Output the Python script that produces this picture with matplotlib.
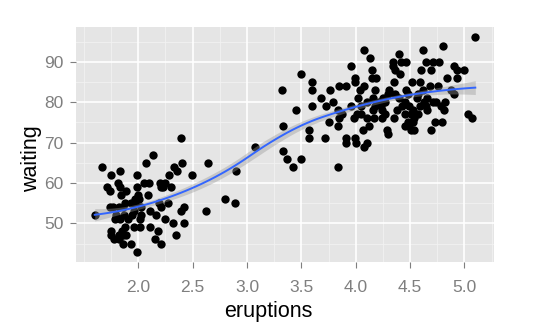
import numpy as np
import matplotlib
matplotlib.use("Agg")
import matplotlib.pyplot as plt

plt.rcParams['font.family'] = ['Liberation Sans', 'DejaVu Sans']

# points (eruption length in min, waiting time in min)
eruptions = [
    1.60, 1.67, 1.71, 1.75, 1.74, 1.74, 1.75, 1.75, 1.78, 1.80, 1.81, 1.83, 1.83,
    1.84, 1.82, 1.79, 1.82, 1.85, 1.86, 1.88, 1.89, 1.88, 1.91, 1.93, 1.94, 1.96,
    1.97, 1.99, 1.99, 2.00, 1.99, 2.02, 2.02, 2.03, 2.01, 2.03, 2.07, 2.09, 2.10,
    2.11, 2.11, 2.14, 2.15, 2.16, 2.18, 2.19, 2.20, 2.21, 2.21, 2.23, 2.25, 2.25,
    2.27, 2.28, 2.30, 2.32, 2.33, 2.35, 2.36, 2.39, 2.39, 2.40, 2.42, 2.42, 2.49,
    1.77, 1.86, 1.93, 1.97, 2.05, 2.21, 1.86, 1.89, 1.96, 1.83, 1.87, 1.82,
    2.62, 2.64, 2.80, 2.89, 2.90, 3.07,
    3.32, 3.33, 3.33, 3.37, 3.42, 3.45, 3.50, 3.50, 3.57, 3.57, 3.60, 3.60, 3.60,
    3.68, 3.72, 3.73, 3.75, 3.76, 3.79, 3.84, 3.84, 3.85, 3.84, 3.85, 3.87, 3.91,
    3.91, 3.91, 3.96, 3.96, 3.98, 3.99, 3.99, 3.99, 4.00, 4.01, 4.02, 4.04, 4.07,
    4.08, 4.08, 4.10, 4.08, 4.10, 4.10, 4.12, 4.13, 4.15, 4.15, 4.16, 4.16, 4.17,
    4.18, 4.19, 4.21, 4.24, 4.25, 4.27, 4.29, 4.30, 4.31, 4.34, 4.34, 4.35, 4.35,
    4.36, 4.36, 4.38, 4.40, 4.41, 4.42, 4.45, 4.46, 4.45, 4.46, 4.48, 4.49, 4.51,
    4.52, 4.53, 4.54, 4.56, 4.57, 4.59, 4.60, 4.62, 4.62, 4.63, 4.65, 4.66, 4.68,
    4.69, 4.69, 4.71, 4.73, 4.74, 4.76, 4.77, 4.79, 4.80, 4.81, 4.82, 4.84, 4.88,
    4.90, 4.90, 4.93, 4.93, 5.00, 5.03, 5.07, 5.10,
    4.23, 4.27, 4.40, 4.49, 4.54, 4.59, 4.43, 4.18, 4.05, 4.30, 4.48, 4.57, 4.65,
    4.51, 4.45, 4.53, 4.78, 4.71, 4.66, 4.05, 4.24,
]
waiting = [
    52, 64, 59, 62, 58, 54, 48, 47, 46, 52, 60, 63, 59,
    57, 54, 51, 46, 48, 45, 55, 58, 49, 51, 45, 52, 53,
    56, 62, 59, 57, 43, 49, 51, 52, 56, 54, 65, 57, 60,
    53, 49, 67, 46, 52, 48, 55, 60, 45, 54, 59, 60, 51,
    55, 62, 59, 50, 64, 47, 63, 71, 53, 65, 54, 50, 62,
    54, 54, 55, 55, 60, 59, 47, 47, 49, 51, 52, 47,
    53, 65, 56, 55, 63, 69,
    83, 74, 68, 66, 64, 78, 87, 66, 73, 71, 85, 83, 79,
    81, 71, 79, 75, 83, 80, 64, 74, 84, 78, 76, 77, 84,
    71, 70, 89, 79, 76, 86, 85, 71, 70, 77, 81, 83, 73,
    69, 93, 70, 84, 80, 76, 74, 91, 88, 86, 81, 78, 76,
    83, 86, 80, 78, 81, 77, 73, 72, 83, 90, 89, 85, 76,
    88, 82, 78, 92, 87, 90, 80, 90, 77, 83, 75, 74, 73,
    85, 78, 73, 81, 77, 85, 88, 93, 83, 80, 90, 78, 84,
    88, 73, 90, 75, 80, 84, 90, 75, 94, 78, 80, 86, 83,
    82, 89, 88, 86, 88, 77, 76, 96,
    79, 80, 81, 79, 76, 79, 79, 79, 79, 82, 82, 82, 79,
    77, 74, 75, 79, 80, 81, 77, 76,
]

x_ticks = [2.0, 2.5, 3.0, 3.5, 4.0, 4.5, 5.0]
y_ticks = [50, 60, 70, 80, 90]

x = np.array(eruptions)
y = np.array(waiting)


# local quadratic regression (loess, span 0.75) plus a standard error band
def loess_matrix(x, x_eval, span=0.75):
    n = len(x)
    q = int(np.floor(n * span))
    L = np.zeros((len(x_eval), n))
    for i, x0 in enumerate(x_eval):
        d = np.abs(x - x0)
        h = np.sort(d)[q - 1]
        w = np.clip(1 - (d / h) ** 3, 0, None) ** 3
        X = np.column_stack([np.ones(n), x - x0, (x - x0) ** 2])
        XtW = X.T * w
        L[i] = np.linalg.solve(XtW @ X, XtW)[0]
    return L


L_data = loess_matrix(x, x)
resid = y - L_data @ y
IL = np.eye(len(x)) - L_data
sigma = np.sqrt(np.sum(resid ** 2) / np.trace(IL.T @ IL))

xs = np.linspace(x.min(), x.max(), 80)
L_grid = loess_matrix(x, xs)
fit = L_grid @ y
se = sigma * np.sqrt(np.sum(L_grid ** 2, axis=1))

fig = plt.figure(figsize=(5.35, 3.34), dpi=100)
ax = fig.add_axes([0.1415, 0.2147, 0.7825, 0.7051])
ax.set_facecolor('#E5E5E5')

xr = x.max() - x.min()
yr = y.max() - y.min()
ax.set_xlim(x.min() - 0.05 * xr, x.max() + 0.05 * xr)
ax.set_ylim(y.min() - 0.05 * yr, y.max() + 0.05 * yr)

for v in np.arange(1.5, 5.3, 0.5) + 0.25:
    ax.axvline(v, color='#F2F2F2', lw=0.6, zorder=0)
ax.axvline(1.5, color='#F2F2F2', lw=0.6, zorder=0)
for v in np.arange(45, 100, 10):
    ax.axhline(v, color='#F2F2F2', lw=0.6, zorder=0)
for v in x_ticks:
    ax.axvline(v, color='white', lw=1.2, zorder=0)
for v in y_ticks:
    ax.axhline(v, color='white', lw=1.2, zorder=0)

ax.scatter(x, y, s=36, color='black', linewidths=0, zorder=2)
ax.fill_between(xs, fit - se, fit + se, color='#999999',
                alpha=0.4, linewidth=0, zorder=3)
ax.plot(xs, fit, color='#3366FF', lw=1.4, zorder=4)

ax.set_xticks(x_ticks)
ax.set_xticklabels(['%.1f' % t for t in x_ticks])
ax.set_yticks(y_ticks)
ax.tick_params(colors='#7F7F7F', labelcolor='#7F7F7F', labelsize=12.5,
               length=4, width=0.8)
ax.tick_params(axis='x', pad=9)
ax.tick_params(axis='y', pad=5)
for s in ax.spines.values():
    s.set_visible(False)

fig.text(268.7 / 535, 1 - 312 / 334, 'eruptions', ha='center', va='center',
         fontsize=15.5)
fig.text(32 / 535, 1 - 158.5 / 334, 'waiting', ha='center', va='center',
         rotation=90, fontsize=15.5)

fig.savefig('out.png', dpi=100)
